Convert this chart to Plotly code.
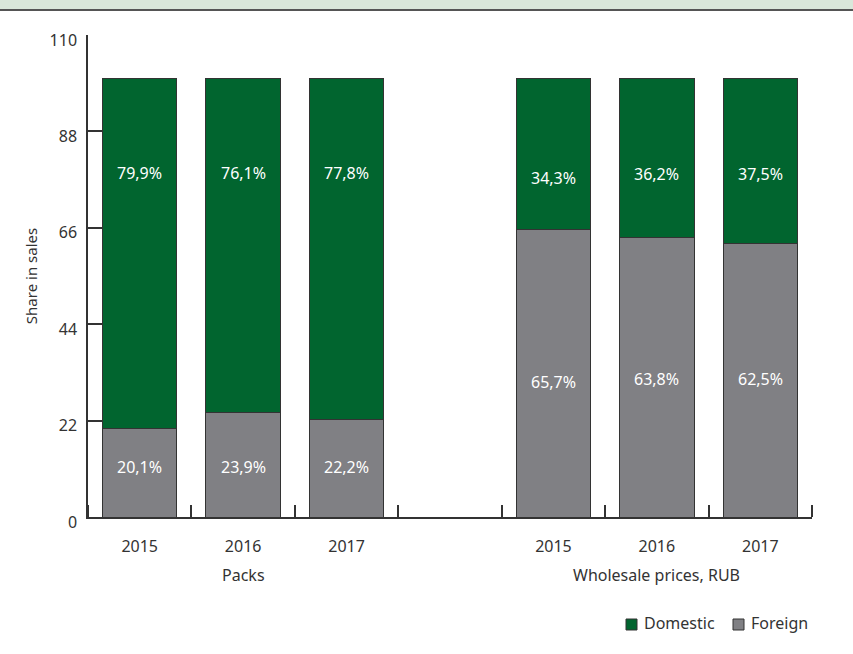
import plotly.graph_objects as go

# Data: share in sales (%), two groups of three years
years = ["2015", "2016", "2017"]
groups = ["Packs", "Wholesale prices, RUB"]
foreign_packs = [20.1, 23.9, 22.2]
domestic_packs = [79.9, 76.1, 77.8]
foreign_wholesale = [65.7, 63.8, 62.5]
domestic_wholesale = [34.3, 36.2, 37.5]
y_ticks = [0, 22, 44, 66, 88, 110]

# Layout geometry (pixels)
W, H = 853, 654
ML, MR, MT, MB = 88, 41, 35, 137
PW, PH = W - ML - MR, H - MT - MB

GREEN = "#01652f"
GREY = "#808084"
EDGE = "#333333"
TXT = "#333333"
FONT = "Noto Sans"
FS = 16

# Slot positions: 0,1,2 packs; 3 empty gap; 4,5,6 wholesale
x_pos = [0, 1, 2, 4, 5, 6]
foreign = foreign_packs + foreign_wholesale
domestic = domestic_packs + domestic_wholesale

fig = go.Figure()
fig.add_trace(go.Bar(
    x=x_pos, y=foreign, name="Foreign", width=0.72,
    marker=dict(color=GREY, line=dict(color=EDGE, width=1)),
    hoverinfo="skip",
))
fig.add_trace(go.Bar(
    x=x_pos, y=domestic, name="Domestic", width=0.72,
    marker=dict(color=GREEN, line=dict(color=EDGE, width=1)),
    hoverinfo="skip",
))

def fmt(v):
    return f"{v:.1f}%".replace(".", ",")

def px_x(p):
    return (p - ML) / PW

def px_y(p):
    return (MT + PH - p) / PH

# Value labels: vertical placement of the text within each segment
dom_label_y = [78.6, 78.6, 78.6, 77.3, 78.2, 78.2]
for_label_y = [11.4, 11.4, 11.4, 30.8, 31.5, 31.5]
annotations = []
for xi, f, d, fy, dy in zip(x_pos, foreign, domestic, for_label_y, dom_label_y):
    annotations.append(dict(x=xi, y=dy, xref="x", yref="y", text=fmt(d),
                            showarrow=False, font=dict(color="white", size=FS, family=FONT)))
    annotations.append(dict(x=xi, y=fy, xref="x", yref="y", text=fmt(f),
                            showarrow=False, font=dict(color="white", size=FS, family=FONT)))

# Group labels under the year labels
for g, xc in zip(groups, [1, 5]):
    annotations.append(dict(x=xc, y=px_y(575), xref="x", yref="paper", text=g,
                            showarrow=False, yanchor="middle",
                            font=dict(color=TXT, size=FS, family=FONT)))

# Header band at the top of the page
shapes = [
    dict(type="rect", xref="paper", yref="paper", x0=px_x(0), x1=px_x(W),
         y0=px_y(10), y1=px_y(0), fillcolor="#d9e7da", line=dict(width=0), layer="below"),
    dict(type="line", xref="paper", yref="paper", x0=px_x(0), x1=px_x(W),
         y0=px_y(10), y1=px_y(10), line=dict(color="#555555", width=2)),
]

# Legend: coloured squares with labels, bottom right
legend_items = [("Domestic", GREEN, 626, 643), ("Foreign", GREY, 733, 750)]
for name, col, sq_x, tx_x in legend_items:
    shapes.append(dict(type="rect", xref="paper", yref="paper",
                       x0=px_x(sq_x), x1=px_x(sq_x + 11), y0=px_y(630), y1=px_y(619),
                       fillcolor=col, line=dict(color=EDGE, width=1)))
    annotations.append(dict(x=px_x(tx_x - 1), y=px_y(623), xref="paper", yref="paper",
                            text=name, showarrow=False, xanchor="left", yanchor="middle",
                            font=dict(color=TXT, size=FS, family=FONT)))

fig.update_layout(
    width=W, height=H,
    margin=dict(l=ML, r=MR, t=MT, b=MB),
    barmode="stack",
    plot_bgcolor="white", paper_bgcolor="white",
    font=dict(family=FONT, color=TXT, size=FS),
    showlegend=False,
    annotations=annotations,
    shapes=shapes,
    xaxis=dict(
        range=[-0.5, 6.5], tickvals=x_pos, ticktext=years + years,
        showline=True, linecolor=EDGE, linewidth=1.5,
        ticks="", showgrid=False, zeroline=False, ticklabelstandoff=14,
        tickfont=dict(size=FS, color=TXT, family=FONT),
        minor=dict(tick0=0.5, dtick=1, ticks="inside", ticklen=12,
                   tickcolor=EDGE, tickwidth=1.5, showgrid=False),
    ),
    yaxis=dict(
        range=[0, 110], tickvals=y_ticks, showline=True, linecolor=EDGE, linewidth=1.5,
        ticks="inside", ticklen=15, tickcolor=EDGE, tickwidth=1.5,
        showgrid=False, zeroline=False, ticklabelshift=5, ticklabelstandoff=6,
        tickfont=dict(size=FS, color=TXT, family=FONT),
        title=dict(text="Share in sales", font=dict(size=FS - 1, color=TXT, family=FONT), standoff=8),
    ),
)

fig.write_html("out.html")
